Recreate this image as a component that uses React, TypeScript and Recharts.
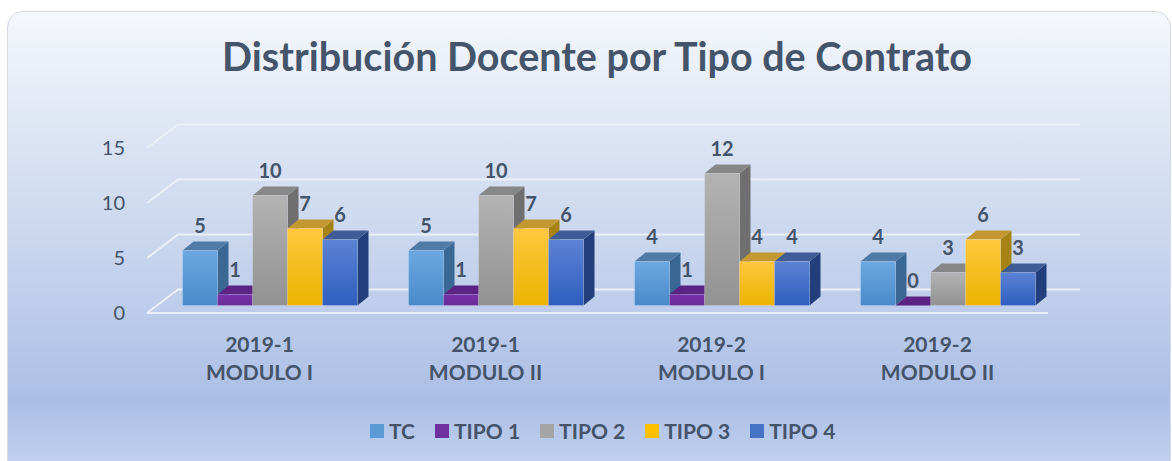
import React from "react";
import { BarChart, Bar, XAxis, YAxis, CartesianGrid, LabelList } from "recharts";

const periods = ["2019-1", "2019-1", "2019-2", "2019-2"];
const modules = ["MODULO I", "MODULO II", "MODULO I", "MODULO II"];

const tc = [5, 5, 4, 4];
const tipo1 = [1, 1, 1, 0];
const tipo2 = [10, 10, 12, 3];
const tipo3 = [7, 7, 4, 6];
const tipo4 = [6, 6, 4, 3];

const yTicks = [0, 5, 10, 15];

const data = periods.map((p, i) => ({
  name: `${p}\n${modules[i]}`,
  tc: tc[i],
  tipo1: tipo1[i],
  tipo2: tipo2[i],
  tipo3: tipo3[i],
  tipo4: tipo4[i],
}));

const series = [
  { key: "tc", name: "TC", g1: "#6ca8e1", g2: "#4a8acb", top: "#507ba6", side: "#3a6895", legend: "#5b9bd5" },
  { key: "tipo1", name: "TIPO 1", g1: "#7632a8", g2: "#6a2c99", top: "#5a2384", side: "#4c1d72", legend: "#7030a0" },
  { key: "tipo2", name: "TIPO 2", g1: "#b3b3b3", g2: "#929292", top: "#878787", side: "#6f6f6f", legend: "#a5a5a5" },
  { key: "tipo3", name: "TIPO 3", g1: "#ffc83e", g2: "#ecb300", top: "#c39830", side: "#a78314", legend: "#ffc000" },
  { key: "tipo4", name: "TIPO 4", g1: "#5b83d4", g2: "#2f5ebf", top: "#3f5c97", side: "#233f7b", legend: "#4472c4" },
];

const TEXT = "#44546a";
const FONT = "Lato, 'Open Sans', sans-serif";
const DX = 11;
const DY = 9;

// front face + top + right side, drawn from the bar's own rect
const Box3D = (props: any) => {
  const { x, y, width, height, s } = props;
  const r = x + width;
  const b = y + height;
  return (
    <g>
      <polygon points={`${r},${y} ${r + DX},${y - DY} ${r + DX},${b - DY} ${r},${b}`} fill={s.side} />
      <polygon points={`${x},${y} ${x + DX},${y - DY} ${r + DX},${y - DY} ${r},${y}`} fill={s.top} />
      {height > 0 && (
        <rect x={x} y={y} width={width} height={height} fill={`url(#grad-${s.key})`} stroke="rgba(255,255,255,0.18)" strokeWidth={1} />
      )}
    </g>
  );
};

// back wall gridline with a slanted run down to the front edge
const GridLine = (p: any) => {
  const { x1, y1, x2, index } = p;
  const front = y1 + 7.5;
  const back = y1 - 16;
  return (
    <polyline
      key={`grid-${index}`}
      points={`${x1 - 9.5},${front} ${x1 + 21.5},${back} ${x2 + 19.5},${back}`}
      fill="none"
      stroke="#eaeff8"
      strokeWidth={2}
    />
  );
};

const FloorLine = (p: any) => {
  const { x1, y1, x2, index } = p;
  const front = y1 + 7.5;
  return <line key={`floor-${index}`} x1={x1 - 9.5} y1={front} x2={x2 - 12.5} y2={front} stroke="#eaeff8" strokeWidth={2} />;
};

const XTick = ({ x, y, payload }: any) => {
  const [a, b] = String(payload.value).split("\n");
  return (
    <text x={x - 10} y={y} textAnchor="middle" fill={TEXT} fontFamily={FONT} fontWeight={700} fontSize={21}>
      <tspan x={x - 10} dy={46}>{a}</tspan>
      <tspan x={x - 10} dy={28.5}>{b}</tspan>
    </text>
  );
};

const YTick = ({ x, y, payload }: any) => (
  <text x={x} y={y + 7.5} dy={7} textAnchor="end" fill={TEXT} fontFamily={FONT} fontSize={20}>
    {payload.value}
  </text>
);

export default function App() {
  return (
    <div style={{ position: "absolute", left: 0, top: 0, width: 1172, height: 461, overflow: "hidden" }}>
      <div
        style={{
          position: "absolute",
          left: 7,
          top: 11,
          width: 1162,
          height: 470,
          borderRadius: 16,
          border: "1px solid #d6dbe5",
          background:
            "linear-gradient(to bottom, #f5f7fc 0px, #e1e8f5 100px, #c9d6ee 230px, #abbfe5 390px, #c0d0ee 450px)",
        }}
      />
      <div
        style={{
          position: "absolute",
          left: 0,
          top: 36,
          width: 1194,
          textAlign: "center",
          fontFamily: FONT,
          fontWeight: 700,
          fontSize: 39.5,
          lineHeight: "40px",
          color: TEXT,
        }}
      >
        Distribución Docente por Tipo de Contrato
      </div>
      <div style={{ position: "absolute", left: 0, top: 0 }}>
        <BarChart
          width={1172}
          height={461}
          data={data}
          barSize={35}
          barGap={0}
          margin={{ top: 140.5, right: 111.5, left: 96.5, bottom: 125.5 }}
        >
          <defs>
            {series.map((s) => (
              <linearGradient key={s.key} id={`grad-${s.key}`} x1="0" y1="0" x2="0" y2="1">
                <stop offset="0%" stopColor={s.g1} />
                <stop offset="100%" stopColor={s.g2} />
              </linearGradient>
            ))}
          </defs>
          <CartesianGrid vertical={false} horizontal={GridLine} />
          <CartesianGrid vertical={false} horizontal={FloorLine} horizontalPoints={[305.5]} />
          <XAxis dataKey="name" axisLine={false} tickLine={false} tickSize={0} tickMargin={0} height={30} tick={<XTick />} interval={0} />
          <YAxis
            domain={[0, 15]}
            ticks={yTicks}
            axisLine={false}
            tickLine={false}
            tickSize={0}
            tickMargin={31.5}
            width={60}
            tick={<YTick />}
          />
          {series.map((s) => (
            <Bar key={s.key} dataKey={s.key} name={s.name} isAnimationActive={false} shape={(p: any) => <Box3D {...p} s={s} />}>
              <LabelList dataKey={s.key} position="top" offset={18} fill={TEXT} fontFamily={FONT} fontWeight={700} fontSize={20} />
            </Bar>
          ))}
        </BarChart>
      </div>
      <div
        style={{
          position: "absolute",
          left: 370,
          top: 418,
          display: "flex",
          alignItems: "center",
          fontFamily: FONT,
          fontWeight: 700,
          fontSize: 21,
          color: TEXT,
          lineHeight: "26px",
        }}
      >
        {series.map((s) => (
          <div key={s.key} style={{ display: "flex", alignItems: "center", marginRight: 20 }}>
            <span style={{ display: "inline-block", width: 14, height: 14, background: s.legend, marginRight: 5 }} />
            <span>{s.name}</span>
          </div>
        ))}
      </div>
    </div>
  );
}
